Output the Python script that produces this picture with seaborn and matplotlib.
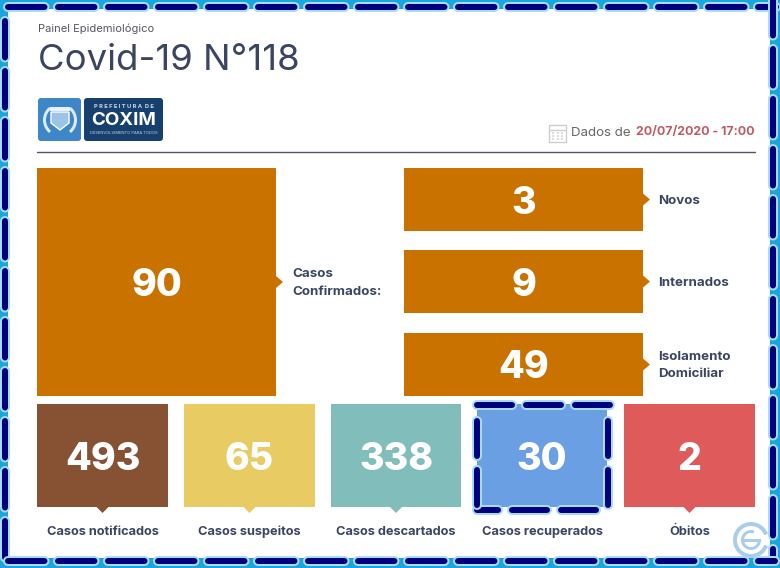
import matplotlib
matplotlib.use("Agg")
import matplotlib.pyplot as plt
from matplotlib.patches import Rectangle, FancyBboxPatch, Polygon, Wedge
import seaborn as sns

# ---- data ----
main_label = ["Casos\nConfirmados:"]
main_value = [90]
side_labels = ["Novos", "Internados", "Isolamento\nDomiciliar"]
side_values = [3, 9, 49]
bottom_labels = ["Casos notificados", "Casos suspeitos", "Casos descartados", "Casos recuperados", "Óbitos"]
bottom_values = [493, 65, 338, 30, 2]
bottom_colors = ["#875234", "#E8CB62", "#80BDBB", "#6B9FE4", "#DF5A5B"]
orange = "#C97200"
heading = "Painel Epidemiológico"
title = "Covid-19 N°118"
date_prefix = "Dados de"
date_text = "20/07/2020 - 17:00"

# ---- layout (pixels) ----
W, H = 780, 568
sns.set_theme(style="white")
plt.rcParams["font.family"] = ["Inter", "DejaVu Sans"]
plt.rcParams["lines.scale_dashes"] = False
fig = plt.figure(figsize=(W / 100, H / 100), dpi=100, facecolor="#1BA5DE")
PX = 0.72
INK = "#3B4562"

def pixel_axes(z):
    a = fig.add_axes([0, 0, 1, 1], zorder=z)
    a.set_xlim(0, W)
    a.set_ylim(H, 0)
    a.axis("off")
    a.patch.set_alpha(0)
    return a

bg = pixel_axes(0)
top = pixel_axes(5)
bg.add_patch(Rectangle((8, 9), 762, 549, fc="white", ec="none"))

def tile(x0, y0, x1, y1, label, value, color, size):
    ax = fig.add_axes([x0 / W, 1 - y1 / H, (x1 - x0) / W, (y1 - y0) / H], zorder=2)
    sns.barplot(x=[label], y=[value], color=color, saturation=1, width=1, linewidth=0, ax=ax)
    ax.set_xlim(-0.5, 0.5)
    ax.set_ylim(0, value)
    ax.axis("off")
    ax.text(0, value / 2, str(value), ha="center", va="center_baseline", color="white",
            fontsize=size, fontweight=800, family=["Inter", "DejaVu Sans"])

# big tile + side tiles
tile(37, 168, 276, 396, main_label[0], main_value[0], orange, 27)
bg.add_patch(Polygon([(276, 276), (283, 282), (276, 288)], fc=orange, ec="none"))
bg.text(292, 283, main_label[0], fontsize=9.6, fontweight="bold", color=INK, va="center", linespacing=1.65)
side_boxes = [(168, 231), (250, 313), (333, 396)]
for (y0, y1), lab, val in zip(side_boxes, side_labels, side_values):
    tile(404, y0, 643, y1, lab, val, orange, 27)
    c = (y0 + y1) / 2
    bg.add_patch(Polygon([(643, c - 6), (650, c), (643, c + 6)], fc=orange, ec="none"))
    bg.text(658.5, c + 1, lab, fontsize=9.6, fontweight="bold", color=INK, va="center", linespacing=1.65)

# bottom row
bottom_x = [(37, 168), (184, 315), (331, 461), (477, 607), (624, 755)]
for (x0, x1), lab, val, col in zip(bottom_x, bottom_labels, bottom_values, bottom_colors):
    tile(x0, 404, x1, 507, lab, val, col, 27)
    c = (x0 + x1) / 2
    if lab != "Casos recuperados":
        bg.add_patch(Polygon([(c - 6, 507), (c, 513), (c + 6, 507)], fc=col, ec="none"))
    bg.text(c, 532, lab, fontsize=9.2, fontweight="bold", color=INK, ha="center", va="center")

# header
bg.text(38, 29, heading, fontsize=8, color="#55575f", va="center")
bg.text(38, 60, title, fontsize=26.3, color=INK, va="center")
bg.plot([37, 755], [151.5, 151.5], color="#4E5463", lw=1)
bg.text(571, 132.5, date_prefix, fontsize=9.6, color="#666666", va="center")
bg.text(755, 132.5, date_text, fontsize=8.9, fontweight="bold", color="#BE5A60", va="center", ha="right")

# calendar icon
bg.add_patch(Rectangle((548.5, 125), 17, 17, fc="white", ec="#cfcfcf", lw=1))
bg.plot([548.5, 565.5], [129.5, 129.5], color="#cfcfcf", lw=1)
for gx in (553, 557.5, 562):
    for gy in (133, 136, 139):
        bg.add_patch(Rectangle((gx - 1, gy - 0.7), 2, 1.4, fc="#dcdcdc", ec="none"))

# logo
bg.add_patch(FancyBboxPatch((40, 100), 39, 39, boxstyle="round,pad=2,rounding_size=3", fc="#3D87C8", ec="none"))
bg.add_patch(FancyBboxPatch((86, 100), 75, 39, boxstyle="round,pad=2,rounding_size=3", fc="#17406F", ec="none"))
bg.add_patch(Rectangle((50, 107), 20, 4, fc="#E8F1F9", ec="none"))
bg.add_patch(Polygon([(51, 112), (69, 112), (69, 123), (60, 130), (51, 123)], fc="#9CC4E6", ec="white", lw=1))
bg.add_patch(Wedge((60, 120), 17, 130, 230, width=3, fc="#DCEAF6", ec="none"))
bg.add_patch(Wedge((60, 120), 17, -50, 50, width=3, fc="#DCEAF6", ec="none"))
bg.text(124, 106, "P R E F E I T U R A  D E", fontsize=4.2, color="#C9D6E6", ha="center", va="center", fontweight="bold")
bg.text(124, 120.5, "COXIM", fontsize=13.5, color="white", ha="center", va="center", fontweight="bold")
bg.text(124, 133, "DESENVOLVIMENTO PARA TODOS", fontsize=2.9, color="#C9D6E6", ha="center", va="center")

# dashed frames
def dashed(x0, y0, x1, y1, offset=0, on=36.5, off=13.5):
    pat = (offset * PX, (on * PX, off * PX))
    for lw, col in ((10, "#A6DDF6"), (6, "#00007F")):
        top.plot([x0, x1], [y0, y1], color=col, lw=lw * PX, linestyle=pat,
                 dash_capstyle="round", solid_capstyle="round")

dashed(8, 6.5, 776, 6.5)
dashed(5, 21, 5, 568)
dashed(773, -12, 773, 560)
dashed(8, 561, 775, 561)

dashed(477, 404.5, 612, 404.5, on=35, off=14)
dashed(476.5, 510, 598, 510, offset=14, on=35, off=14)
dashed(477, 421, 477, 510, on=35, off=14)
dashed(608, 421, 608, 507, on=35, off=14)

# watermark
wm = "#A9CDEA"
top.add_patch(Wedge((751, 540), 18, 20, 340, width=4, fc=wm, ec="none"))
top.add_patch(Wedge((751, 540), 10, 0, 290, width=3, fc=wm, ec="none"))
top.add_patch(Rectangle((741, 538.5), 20, 3, fc=wm, ec="none"))

fig.savefig("out.png", dpi=100, facecolor=fig.get_facecolor())
